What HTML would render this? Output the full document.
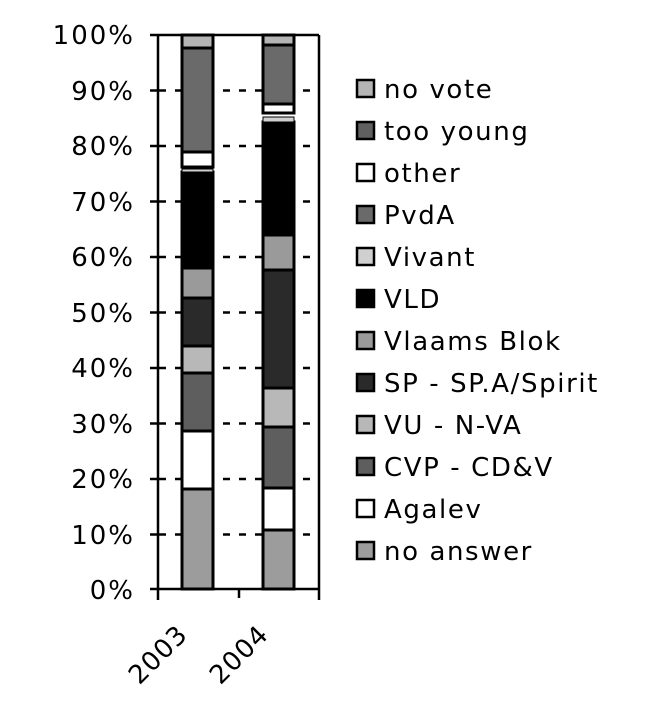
<!DOCTYPE html><html><head><style>body{margin:0;background:#fff}svg{display:block}text{font-family:"DejaVu Sans",sans-serif;fill:#000}</style></head><body>
<svg width="650" height="703" viewBox="0 0 650 703">
<g stroke="#000" stroke-width="2.5" stroke-dasharray="7,9">
<line x1="159" x2="319" y1="90.5" y2="90.5"/><line x1="159" x2="319" y1="146" y2="146"/><line x1="159" x2="319" y1="201.5" y2="201.5"/><line x1="159" x2="319" y1="257" y2="257"/><line x1="159" x2="319" y1="312.5" y2="312.5"/><line x1="159" x2="319" y1="368" y2="368"/><line x1="159" x2="319" y1="423.5" y2="423.5"/><line x1="159" x2="319" y1="479" y2="479"/><line x1="159" x2="319" y1="534.5" y2="534.5"/>
</g>
<g stroke="#000" stroke-width="3">
<rect x="182" y="489" width="31" height="100" fill="#9c9c9c"/>
<rect x="182" y="431" width="31" height="58" fill="#fff"/>
<rect x="182" y="373" width="31" height="58" fill="#5e5e5e"/>
<rect x="182" y="346" width="31" height="27" fill="#b8b8b8"/>
<rect x="182" y="298" width="31" height="48" fill="#2a2a2a"/>
<rect x="182" y="268" width="31" height="30" fill="#9a9a9a"/>
<rect x="182" y="172" width="31" height="96" fill="#000"/>
<rect x="182" y="169" width="31" height="3" fill="#d0d0d0" stroke-width="1"/>
<rect x="182" y="152" width="31" height="15" fill="#fff"/>
<rect x="182" y="48" width="31" height="104" fill="#6a6a6a"/>
<rect x="182" y="35" width="31" height="13" fill="#b4b4b4"/>
<rect x="263" y="530" width="31" height="59" fill="#9c9c9c"/>
<rect x="263" y="488" width="31" height="42" fill="#fff"/>
<rect x="263" y="427" width="31" height="61" fill="#5e5e5e"/>
<rect x="263" y="388" width="31" height="39" fill="#b8b8b8"/>
<rect x="263" y="270" width="31" height="118" fill="#2a2a2a"/>
<rect x="263" y="235" width="31" height="35" fill="#9a9a9a"/>
<rect x="263" y="122" width="31" height="113" fill="#000"/>
<rect x="263" y="117" width="31" height="5" fill="#d0d0d0" stroke-width="1"/>
<rect x="263" y="104" width="31" height="9" fill="#fff"/>
<rect x="263" y="45" width="31" height="59" fill="#6a6a6a"/>
<rect x="263" y="35" width="31" height="10" fill="#b4b4b4"/>
</g>
<g stroke="#000" stroke-width="2.5" fill="none">
<line x1="158" y1="35" x2="319" y2="35"/><line x1="319" y1="35" x2="319" y2="600"/>
<line x1="158" y1="35" x2="158" y2="600"/><line x1="150" y1="589" x2="319" y2="589"/>
<line x1="239" y1="589" x2="239" y2="598"/>
<line x1="150" y1="35" x2="158" y2="35"/><line x1="150" y1="90.5" x2="158" y2="90.5"/><line x1="150" y1="146" x2="158" y2="146"/><line x1="150" y1="201.5" x2="158" y2="201.5"/><line x1="150" y1="257" x2="158" y2="257"/><line x1="150" y1="312.5" x2="158" y2="312.5"/><line x1="150" y1="368" x2="158" y2="368"/><line x1="150" y1="423.5" x2="158" y2="423.5"/><line x1="150" y1="479" x2="158" y2="479"/><line x1="150" y1="534.5" x2="158" y2="534.5"/>
</g>
<g font-size="26" letter-spacing="2" text-anchor="end">
<text x="135" y="44">100%</text><text x="135" y="100">90%</text><text x="135" y="155">80%</text><text x="135" y="211">70%</text><text x="135" y="266">60%</text><text x="135" y="322">50%</text><text x="135" y="377">40%</text><text x="135" y="433">30%</text><text x="135" y="488">20%</text><text x="135" y="544">10%</text><text x="135" y="599">0%</text>
</g>
<g font-size="26" letter-spacing="1" text-anchor="end">
<text transform="translate(189,636) rotate(-45)">2003</text>
<text transform="translate(270,636) rotate(-45)">2004</text>
</g>
<g stroke="#000" stroke-width="2.5">
<rect x="357" y="80" width="17" height="17" fill="#b4b4b4"/>
<rect x="357" y="122" width="17" height="17" fill="#606060"/>
<rect x="357" y="164" width="17" height="17" fill="#fff"/>
<rect x="357" y="206" width="17" height="17" fill="#6a6a6a"/>
<rect x="357" y="248" width="17" height="17" fill="#d0d0d0"/>
<rect x="357" y="290" width="17" height="17" fill="#000"/>
<rect x="357" y="332" width="17" height="17" fill="#9a9a9a"/>
<rect x="357" y="374" width="17" height="17" fill="#2a2a2a"/>
<rect x="357" y="416" width="17" height="17" fill="#b8b8b8"/>
<rect x="357" y="458" width="17" height="17" fill="#5e5e5e"/>
<rect x="357" y="500" width="17" height="17" fill="#fff"/>
<rect x="357" y="542" width="17" height="17" fill="#9c9c9c"/>
</g>
<g font-size="26" letter-spacing="1.6">
<text x="384" y="98">no vote</text><text x="384" y="140">too young</text><text x="384" y="182">other</text><text x="384" y="224">PvdA</text><text x="384" y="266">Vivant</text><text x="384" y="308">VLD</text><text x="384" y="350">Vlaams Blok</text><text x="384" y="392">SP - SP.A/Spirit</text><text x="384" y="434">VU - N-VA</text><text x="384" y="476">CVP - CD&amp;V</text><text x="384" y="518">Agalev</text><text x="384" y="560">no answer</text>
</g>
</svg></body></html>
